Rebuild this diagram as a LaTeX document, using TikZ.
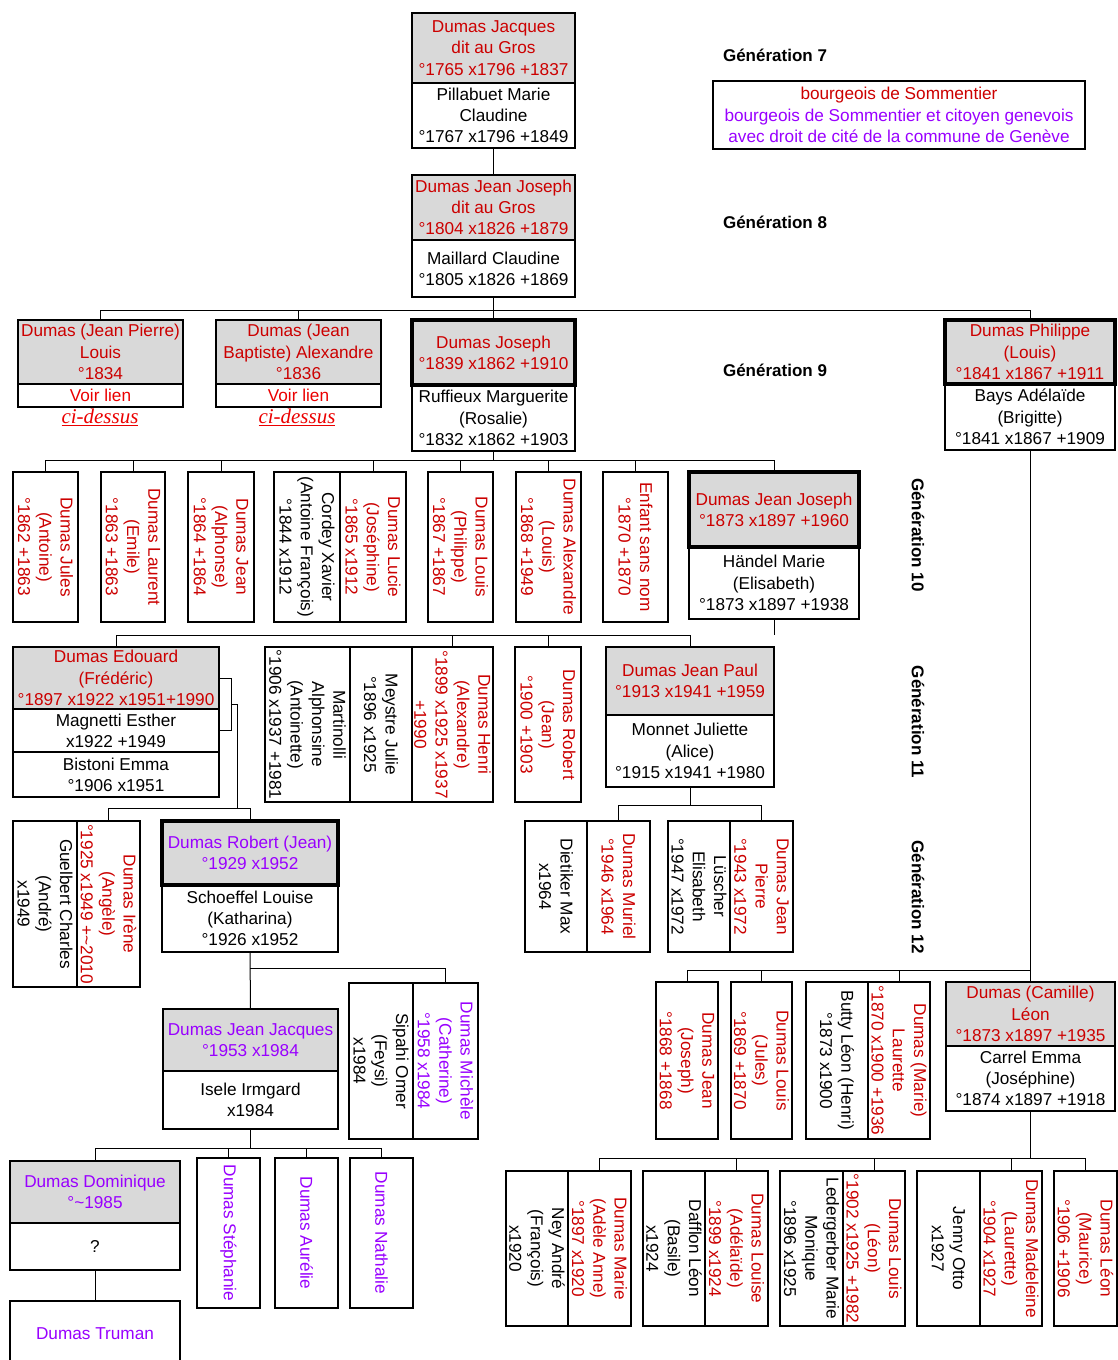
\documentclass[tikz,border=0pt]{standalone}
\usepackage{fontspec}
\setmainfont{Liberation Sans}
\newfontfamily\ciserif{Liberation Serif}
\definecolor{nred}{RGB}{204,0,0}
\definecolor{lred}{RGB}{235,0,0}
\definecolor{npur}{RGB}{153,0,255}
\definecolor{boxgray}{RGB}{217,217,217}
\newcommand\vbx[7]{\node[wb,box={#2}{#3}{#4}{#5}] (#1) {}; \node[rt,text=#6] at (#1) {#7};}
\begin{document}
\begin{tikzpicture}[x=1pt,y=-1pt,
 every node/.style={font=\fontsize{17.2}{21.3}\selectfont,align=center,inner sep=0pt,outer sep=0pt},
 box/.style n args={4}{at={({(#1+#3)/2},{(#2+#4)/2})},minimum width={#3-#1},minimum height={#4-#2},rectangle},
 wb/.style={draw,line width=1.3pt,fill=white},
 gb/.style={draw,line width=1.3pt,fill=boxgray},
 tb/.style={draw,line width=3.6pt,fill=boxgray},
 conn/.style={line width=1pt},
 gen/.style={font=\bfseries\fontsize{17}{20}\selectfont},
 rt/.style={rotate=-90},
 cis/.style={text=lred,font=\ciserif\itshape\fontsize{21}{24}\selectfont},
]
\useasboundingbox (0,0) rectangle (1118,1360);
% bus levels
\coordinate (bus8) at (0,310);
\coordinate (bus9) at (0,460);
\coordinate (bus10) at (0,635);
\coordinate (bus11a) at (0,805);
\coordinate (bus11b) at (0,808);
\coordinate (bus9r) at (0,970);
\coordinate (bus12) at (0,968);
\coordinate (bus12r) at (0,1158);
\coordinate (bus13) at (0,1148);
\coordinate (brx) at (231,0);
\coordinate (brm) at (231,704);
\coordinate (drx) at (237,0);

% Generation labels
\node[gen] (g7) at (775,55) {Génération 7};
\node[gen] (g8) at (775,222) {Génération 8};
\node[gen] (g9) at (775,370) {Génération 9};
\node[gen,rt] (g10) at (918,535) {Génération 10};
\node[gen,rt] (g11) at (918,722) {Génération 11};
\node[gen,rt] (g12) at (918,897) {Génération 12};

% note
\node[draw,line width=1.1pt,box={713}{81}{1085}{149}] (note) {\textcolor{nred}{bourgeois de Sommentier}\\\textcolor{npur}{bourgeois de Sommentier et citoyen genevois}\\\textcolor{npur}{avec droit de cité de la commune de Genève}};

% Gen 7
\node[gb,box={412}{13}{575}{83},text=nred] (a1) {Dumas Jacques\\dit au Gros\\°1765 x1796 +1837};
\node[wb,box={412}{83}{575}{148}] (a2) {Pillabuet Marie\\Claudine\\°1767 x1796 +1849};
% Gen 8
\node[gb,box={412}{175}{575}{240},text=nred] (b1) {Dumas Jean Joseph\\dit au Gros\\°1804 x1826 +1879};
\node[wb,box={412}{240}{575}{297}] (b2) {Maillard Claudine\\°1805 x1826 +1869};
% Gen 9
\node[gb,box={18}{320}{183}{384},text=nred] (c1) {Dumas (Jean Pierre)\\Louis\\°1834};
\node[wb,box={18}{384}{183}{407},text=lred] (c1v) {Voir lien};
\node[cis] (cs1) at (100,417) {\underline{ci-dessus}};
\node[gb,box={216}{320}{381}{384},text=nred] (c2) {Dumas (Jean\\Baptiste) Alexandre\\°1836};
\node[wb,box={216}{384}{381}{407},text=lred] (c2v) {Voir lien};
\node[cis] (cs2) at (297,417) {\underline{ci-dessus}};
\node[wb,box={412}{385}{575}{451}] (c3w) {Ruffieux Marguerite\\(Rosalie)\\°1832 x1862 +1903};
\node[tb,box={412}{320}{575}{385},text=nred] (c3) {Dumas Joseph\\°1839 x1862 +1910};
\node[wb,box={945}{384}{1115}{450}] (c4w) {Bays Adélaïde\\(Brigitte)\\°1841 x1867 +1909};
\node[tb,box={945}{320}{1115}{384},text=nred] (c4) {Dumas Philippe\\(Louis)\\°1841 x1867 +1911};
% Gen 10
\vbx{d1}{13}{472}{78}{622}{nred}{Dumas Jules\\(Antoine)\\°1862 +1863}
\vbx{d2}{101}{472}{165}{622}{nred}{Dumas Laurent\\(Emile)\\°1863 +1863}
\vbx{d3}{188}{472}{254}{622}{nred}{Dumas Jean\\(Alphonse)\\°1864 +1864}
\vbx{d4a}{274}{472}{340}{622}{black}{Cordey Xavier\\(Antoine François)\\°1844 x1912}
\vbx{d4b}{340}{472}{406}{622}{nred}{Dumas Lucie\\(Joséphine)\\°1865 x1912}
\vbx{d5}{428}{472}{493}{622}{nred}{Dumas Louis\\(Philippe)\\°1867 +1867}
\vbx{d6}{516}{472}{581}{622}{nred}{Dumas Alexandre\\(Louis)\\°1868 +1949}
\vbx{d7}{603}{472}{668}{622}{nred}{Enfant sans nom\\°1870 +1870}
\node[wb,box={689}{547}{859}{619}] (d8w) {Händel Marie\\(Elisabeth)\\°1873 x1897 +1938};
\node[tb,box={689}{472}{859}{547},text=nred] (d8) {Dumas Jean Joseph\\°1873 x1897 +1960};
% Gen 11
\node[gb,box={13}{647}{219}{709},text=nred] (e1) {Dumas Edouard\\(Frédéric)\\°1897 x1922 x1951+1990};
\node[wb,box={13}{709}{219}{752}] (e1w) {Magnetti Esther\\x1922 +1949};
\node[wb,box={13}{752}{219}{797}] (e1x) {Bistoni Emma\\°1906 x1951};
\vbx{e2a}{265}{647}{350}{802}{black}{Martinolli\\Alphonsine\\(Antoinette)\\°1906 x1937 +1981}
\vbx{e2b}{350}{647}{412}{802}{black}{Meystre Julie\\°1896 x1925}
\vbx{e2c}{412}{647}{493}{802}{nred}{Dumas Henri\\(Alexandre)\\°1899 x1925 x1937\\+1990}
\vbx{e3}{515}{647}{581}{802}{nred}{Dumas Robert\\(Jean)\\°1900 +1903}
\node[gb,box={606}{647}{774}{715},text=nred] (e4) {Dumas Jean Paul\\°1913 x1941 +1959};
\node[wb,box={606}{715}{774}{787}] (e4w) {Monnet Juliette\\(Alice)\\°1915 x1941 +1980};
% Gen 12
\vbx{f1a}{13}{821}{77}{987}{black}{Guelbert Charles\\(André)\\x1949}
\vbx{f1b}{77}{821}{140}{987}{nred}{Dumas Irène\\(Angèle)\\°1925 x1949 +\textasciitilde2010}
\node[wb,box={162}{885}{338}{952}] (f2w) {Schoeffel Louise\\(Katharina)\\°1926 x1952};
\node[tb,box={162}{821}{338}{885},text=npur] (f2) {Dumas Robert (Jean)\\°1929 x1952};
\vbx{f3a}{525}{821}{587}{952}{black}{Dietiker Max\\x1964}
\vbx{f3b}{587}{821}{650}{952}{nred}{Dumas Muriel\\°1946 x1964}
\vbx{f4a}{668}{821}{730}{952}{black}{Lüscher\\Elisabeth\\°1947 x1972}
\vbx{f4b}{730}{821}{793}{952}{nred}{Dumas Jean\\Pierre\\°1943 x1972}
\vbx{g1}{656}{982}{718}{1139}{nred}{Dumas Jean\\(Joseph)\\°1868 +1868}
\vbx{g2}{731}{982}{792}{1139}{nred}{Dumas Louis\\(Jules)\\°1869 +1870}
\vbx{g3a}{806}{982}{868}{1139}{black}{Butty Léon (Henri)\\°1873 x1900}
\vbx{g3b}{868}{982}{930}{1139}{nred}{Dumas (Marie)\\Laurette\\°1870 x1900 +1936}
\node[gb,box={946}{982}{1115}{1046},text=nred] (g4) {Dumas (Camille)\\Léon\\°1873 x1897 +1935};
\node[wb,box={946}{1046}{1115}{1111}] (g4w) {Carrel Emma\\(Joséphine)\\°1874 x1897 +1918};
% Gen 13
\node[gb,box={163}{1009}{338}{1071},text=npur] (h1) {Dumas Jean Jacques\\°1953 x1984};
\node[wb,box={163}{1071}{338}{1129}] (h1w) {Isele Irmgard\\x1984};
\vbx{h2a}{349}{983}{413}{1139}{black}{Sipahi Omer\\(Feysi)\\x1984}
\vbx{h2b}{413}{983}{478}{1139}{npur}{Dumas Michèle\\(Catherine)\\°1958 x1984}
\vbx{k1a}{506}{1171}{568}{1326}{black}{Ney André\\(François)\\x1920}
\vbx{k1b}{568}{1171}{631}{1326}{nred}{Dumas Marie\\(Adèle Anne)\\°1897 x1920}
\vbx{k2a}{643}{1171}{705}{1326}{black}{Dafflon Léon\\(Basile)\\x1924}
\vbx{k2b}{705}{1171}{768}{1326}{nred}{Dumas Louise\\(Adélaïde)\\°1899 x1924}
\vbx{k3a}{780}{1171}{843}{1326}{black}{Ledergerber Marie\\Monique\\°1896 x1925}
\vbx{k3b}{843}{1171}{905}{1326}{nred}{Dumas Louis\\(Léon)\\°1902 x1925 +1982}
\vbx{k4a}{917}{1171}{980}{1326}{black}{Jenny Otto\\x1927}
\vbx{k4b}{980}{1171}{1042}{1326}{nred}{Dumas Madeleine\\(Laurette)\\°1904 x1927}
\vbx{k5}{1054}{1171}{1117}{1326}{nred}{Dumas Léon\\(Maurice)\\°1906 +1906}
% Gen 14
\node[gb,box={10}{1161}{180}{1223},text=npur] (i1) {Dumas Dominique\\°\textasciitilde1985};
\node[wb,box={10}{1223}{180}{1270}] (i1w) {?};
\vbx{i2}{197}{1158}{260}{1308}{npur}{Dumas Stéphanie}
\vbx{i3}{275}{1158}{338}{1308}{npur}{Dumas Aurélie}
\vbx{i4}{350}{1158}{413}{1308}{npur}{Dumas Nathalie}
\node[wb,box={10}{1301}{180}{1366},text=npur] (j1) {Dumas Truman};

% ---------- connectors ----------
\draw[conn] (a2.south) -- (b1.north);
\draw[conn] (b2.south) -- (b2.south|-bus8);
\draw[conn] (c1.north) -- (c1.north|-bus8) -- (c4.north|-bus8) -- (c4.north);
\draw[conn] (c2.north) -- (c2.north|-bus8);
\draw[conn] (c3.north) -- (c3.north|-bus8);
\draw[conn] (c3w.south) -- (c3w.south|-bus9);
\draw[conn] (d1.north) -- (d1.north|-bus9) -- (d8.north|-bus9) -- (d8.north);
\foreach \n in {d2,d3,d4b,d5,d6,d7} \draw[conn] (\n.north) -- (\n.north|-bus9);
\draw[conn] (d8w.south) -- (d8w.south|-bus10);
\draw[conn] (e1.north) -- (e1.north|-bus10) -- (e4.north|-bus10) -- (e4.north);
\foreach \n in {e2c,e3} \draw[conn] (\n.north) -- (\n.north|-bus10);
\draw[conn] (e4w.south) -- (e4w.south|-bus11a);
\draw[conn] (f3b.north) -- (f3b.north|-bus11a) -- (f4b.north|-bus11a) -- (f4b.north);
\draw[conn] (e1.east) -| (brx|-e1w.east) -- (e1w.east);
\draw[conn] (brm) -- (drx|-brm) -- (drx|-bus11b);
\draw[conn] (f1b.north) -- (f1b.north|-bus11b) -- (f2.north|-bus11b) -- (f2.north);
\draw[conn] (f2w.south) -- (h1.north);
\draw[conn] (f2w.south|-bus12) -- (h2b.north|-bus12) -- (h2b.north);
\draw[conn] (c4w.south) -- (c4w.south|-bus9r);
\draw[conn] (g1.north) -- (g1.north|-bus9r) -- (g4.north|-bus9r) -- (g4.north);
\foreach \n in {g2,g3b} \draw[conn] (\n.north) -- (\n.north|-bus9r);
\draw[conn] (g4w.south) -- (g4w.south|-bus12r);
\draw[conn] (k1b.north) -- (k1b.north|-bus12r) -- (k5.north|-bus12r) -- (k5.north);
\foreach \n in {k2b,k3b,k4b} \draw[conn] (\n.north) -- (\n.north|-bus12r);
\draw[conn] (h1w.south) -- (h1w.south|-bus13);
\draw[conn] (i1.north) -- (i1.north|-bus13) -- (i4.north|-bus13) -- (i4.north);
\foreach \n in {i2,i3} \draw[conn] (\n.north) -- (\n.north|-bus13);
\draw[conn] (i1w.south) -- (j1.north);
\end{tikzpicture}
\end{document}
